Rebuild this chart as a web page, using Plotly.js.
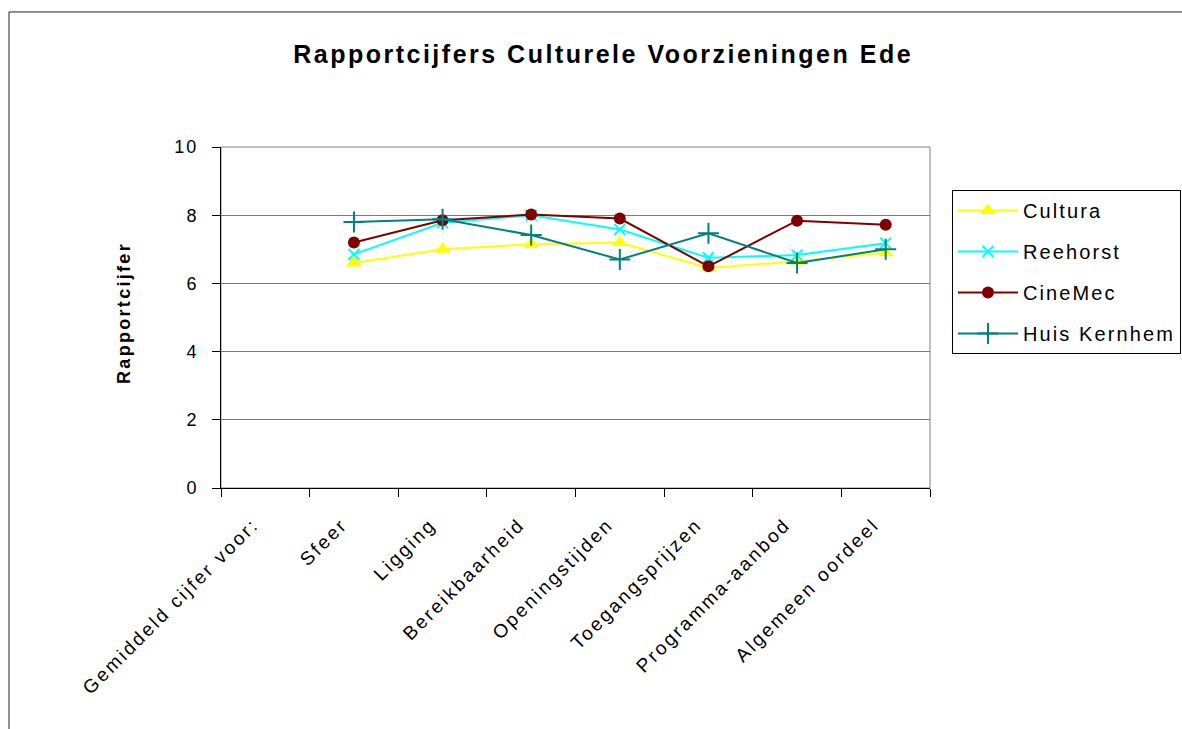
<!DOCTYPE html>
<html>
<head>
<meta charset="utf-8">
<script src="https://cdn.plot.ly/plotly-3.0.1.min.js"></script>
<style>
  html, body { margin: 0; padding: 0; background: #ffffff; overflow: hidden; }
  #chart { width: 1182px; height: 729px; }
  .gtitle { letter-spacing: 2.5px; }
  .xtick text { letter-spacing: 2.5px; }
  .ytick text { letter-spacing: 2px; }
  .legendtext { letter-spacing: 2.1px; }
  .annotation-text { letter-spacing: 2.3px; }
</style>
</head>
<body>
<div id="chart"></div>
<script>
// ---- data ----
const categories = ["Gemiddeld cijfer voor:", "Sfeer", "Ligging", "Bereikbaarheid",
  "Openingstijden", "Toegangsprijzen", "Programma-aanbod", "Algemeen oordeel"];
const aspects = categories.slice(1);
const cultura     = [6.6, 7.0, 7.15, 7.2, 6.45, 6.65, 6.9];
const reehorst    = [6.85, 7.78, 8.0, 7.58, 6.75, 6.83, 7.18];
const cinemec     = [7.2, 7.85, 8.02, 7.9, 6.5, 7.84, 7.72];
const huisKernhem = [7.8, 7.88, 7.42, 6.7, 7.47, 6.6, 7.0];
const seriesNames = ["Cultura", "Reehorst", "CineMec", "Huis Kernhem"];
const yTicks = [0, 2, 4, 6, 8, 10];

const FONT = "Arial, 'Liberation Sans', sans-serif";

function series(name, y, color, symbol, size, mline) {
  return {
    type: "scatter", mode: "lines+markers", name: name, legendgroup: name,
    x: aspects, y: y,
    line: { color: color, width: 2 },
    marker: { color: color, symbol: symbol, size: size,
              line: { color: color, width: mline } }
  };
}

const traces = [
  series(seriesNames[0], cultura, "#FFFF00", "triangle-up", 14, 0),
  series(seriesNames[1], reehorst, "#00FFFF", "x-thin-open", 11, 2),
  series(seriesNames[2], cinemec, "#800000", "circle", 12, 0),
  series(seriesNames[3], huisKernhem, "#008080", "cross-thin-open", 15, 2)
];

const layout = {
  width: 1182, height: 729,
  margin: { l: 221, r: 252, t: 147, b: 241, pad: 0, autoexpand: false },
  paper_bgcolor: "#ffffff", plot_bgcolor: "#ffffff",
  font: { family: FONT, color: "#000000", size: 18 },
  title: {
    text: "Rapportcijfers Culturele Voorzieningen Ede",
    font: { family: FONT, size: 25, weight: "bold", color: "#000000" },
    x: 0.539, xref: "paper", xanchor: "center",
    y: 0.926, yref: "container", yanchor: "middle"
  },
  xaxis: {
    type: "category", categoryorder: "array", categoryarray: categories,
    range: [-0.5, 7.5], tickson: "boundaries",
    showgrid: false, zeroline: false,
    showline: true, linecolor: "#000000", linewidth: 1,
    ticks: "outside", ticklen: 8, tickcolor: "#000000", tickwidth: 1,
    tickangle: -45, tickfont: { family: FONT, size: 19, color: "#000000" },
    ticklabelstandoff: 17, ticklabelshift: -12,
    automargin: false, fixedrange: true
  },
  yaxis: {
    range: [0, 10], tickvals: yTicks, ticktext: yTicks.map(String),
    showgrid: true, gridcolor: "#7a7a7a", gridwidth: 1,
    zeroline: false, showline: true, linecolor: "#000000", linewidth: 1,
    ticks: "outside", ticklen: 8, tickcolor: "#000000", tickwidth: 1,
    ticklabelstandoff: 10,
    tickfont: { family: FONT, size: 18, color: "#000000" },
    automargin: false, fixedrange: true
  },
  showlegend: true,
  legend: {
    x: 1.031, xanchor: "left", y: 0.874, yanchor: "top",
    bgcolor: "#ffffff", bordercolor: "#000000", borderwidth: 1,
    font: { family: FONT, size: 20, color: "#000000" },
    traceorder: "grouped", tracegroupgap: 12, itemwidth: 60
  },
  annotations: [{
    text: "<b>Rapportcijfer</b>", textangle: -90,
    xref: "paper", yref: "paper", x: -0.137, y: 0.513,
    xanchor: "center", yanchor: "middle", showarrow: false,
    font: { family: FONT, size: 18, color: "#000000" }
  }],
  shapes: [
    { type: "rect", xref: "paper", yref: "paper", x0: 0, x1: 1, y0: 0, y1: 1,
      line: { color: "#808080", width: 1 }, layer: "below" },
    { type: "rect", xref: "paper", yref: "paper",
      x0: -0.299, x1: 1.6, y0: -0.8, y1: 1.396,
      line: { color: "#222222", width: 1 }, layer: "below" }
  ]
};

Plotly.newPlot("chart", traces, layout, { displayModeBar: false, staticPlot: true });
</script>
</body>
</html>
